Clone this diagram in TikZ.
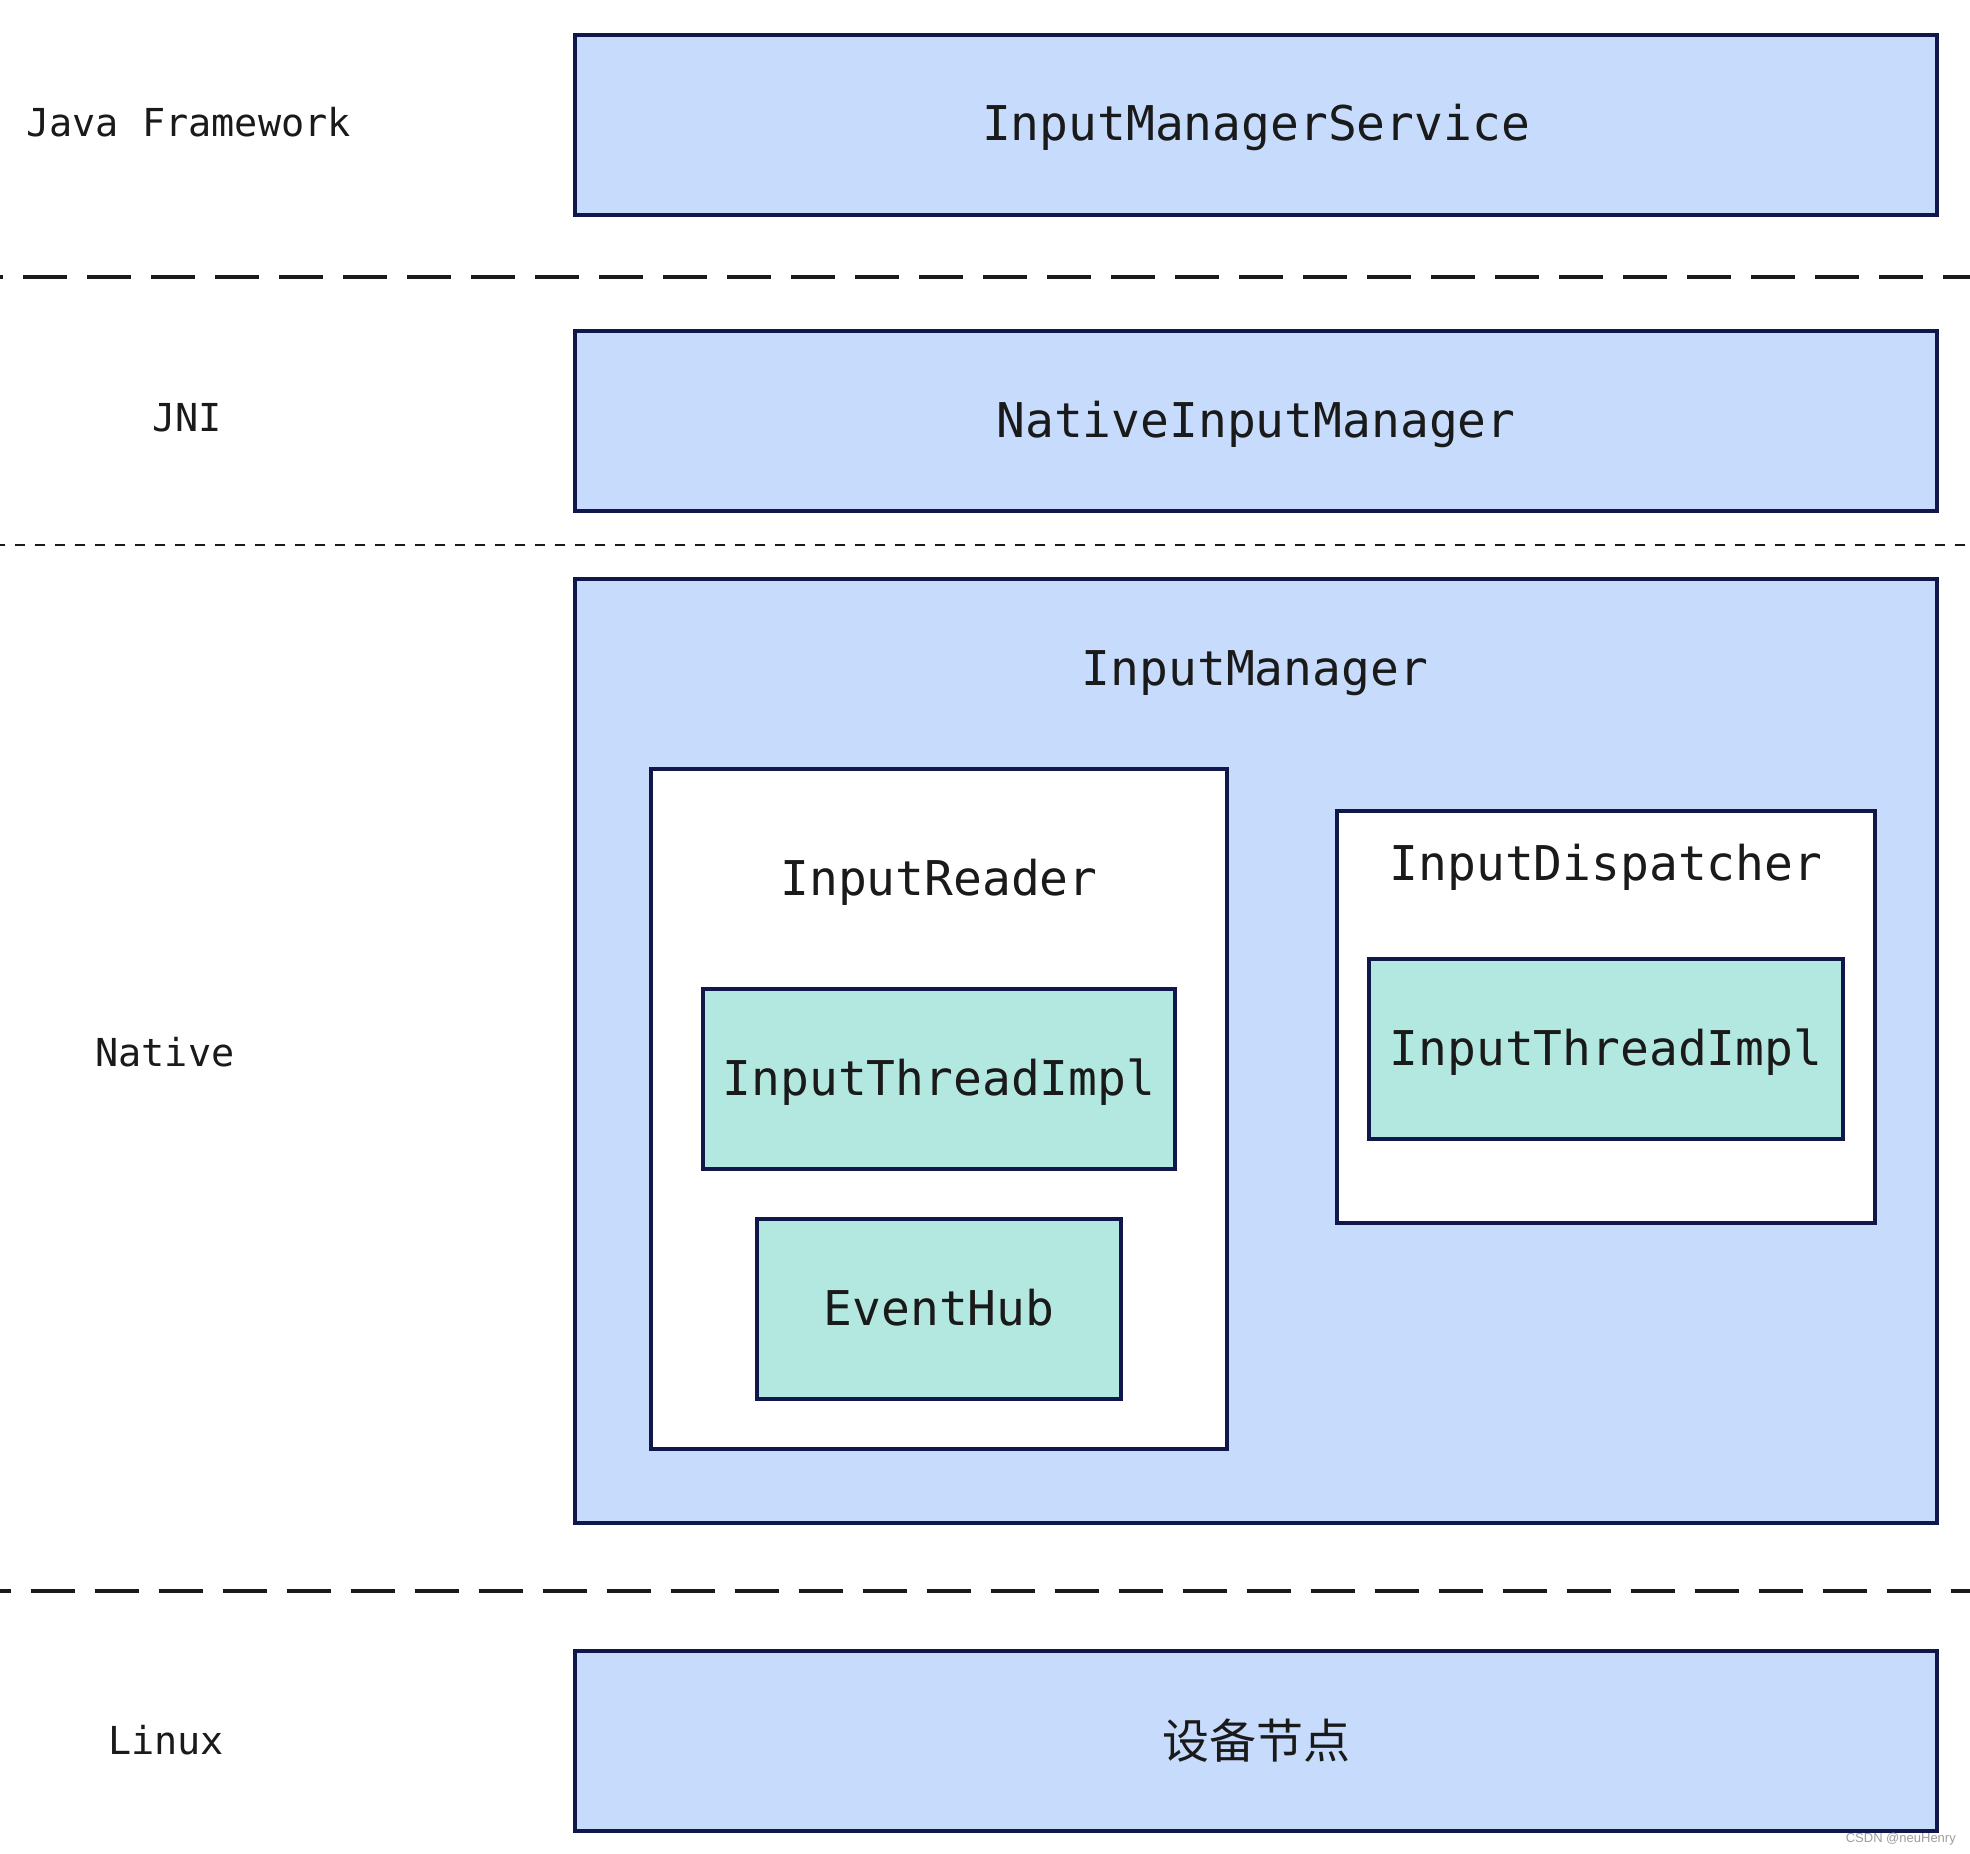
\documentclass[tikz,border=0pt]{standalone}
\usepackage{fontspec}
\usetikzlibrary{fit}
\newfontfamily\dvm{DejaVu Sans Mono}
\newfontfamily\cjk{Noto Sans CJK SC}
\newfontfamily\wmfont{Liberation Sans}
\definecolor{boxblue}{HTML}{C7DBFC}
\definecolor{boxteal}{HTML}{B3E8E0}
\definecolor{edge}{HTML}{10174A}
\definecolor{ink}{HTML}{1A1A1A}
\begin{document}
\begin{tikzpicture}[x=1pt,y=-1pt,
  box/.style={draw=edge,line width=3.3pt,inner sep=0pt,outer sep=0pt},
  bluebox/.style={box,fill=boxblue},
  whitebox/.style={box,fill=white},
  tealbox/.style={box,fill=boxteal},
  bigtxt/.style={font=\dvm\fontsize{47.9}{57}\selectfont,text=ink,inner sep=0pt,anchor=base},
  cjktxt/.style={font=\cjk\fontsize{47}{57}\selectfont,text=ink,inner sep=0pt,anchor=base},
  laytxt/.style={font=\dvm\fontsize{38.5}{46}\selectfont,text=ink,inner sep=0pt,anchor=base},
  thickdash/.style={draw=ink,line width=3.4pt,dash pattern=on 44pt off 20pt},
  thindash/.style={draw=ink,line width=2pt,dash pattern=on 10pt off 10pt}]
\useasboundingbox (0,0) rectangle (1970,1854);
\fill[white] (0,0) rectangle (1970,1854);

% layer separators
\coordinate (l1a) at (0,277);  \coordinate (l1b) at (1970,277);
\coordinate (l2a) at (0,545);  \coordinate (l2b) at (1970,545);
\coordinate (l3a) at (0,1591); \coordinate (l3b) at (1970,1591);
\draw[thickdash,dash phase=41pt] (l1a) -- (l1b);
\draw[thindash,dash phase=5pt] (l2a) -- (l2b);
\draw[thickdash,dash phase=33pt] (l3a) -- (l3b);

% layer labels
\node[laytxt] (ljava) at (188.5,137) {Java Framework};
\node[laytxt] (ljni) at (187,431) {JNI};
\node[laytxt] (lnative) at (165,1066) {Native};
\node[laytxt] (llinux) at (166,1754) {Linux};

% boxes
\node[bluebox,fit={(575,35) (1937,215)}] (ims) {};
\node[bigtxt] (imstxt) at ([yshift=-16pt]ims.center) {InputManagerService};

\node[bluebox,fit={(575,331) (1937,511)}] (nim) {};
\node[bigtxt] (nimtxt) at ([yshift=-16pt]nim.center) {NativeInputManager};

\node[bluebox,fit={(575,579) (1937,1523)}] (im) {};
\node[bigtxt] (imtxt) at (1255,685.5) {InputManager};

\node[whitebox,fit={(651,769) (1227,1449)}] (ir) {};
\node[bigtxt] (irtxt) at (939,895.5) {InputReader};

\node[tealbox,fit={(703,989) (1175,1169)}] (iti1) {};
\node[bigtxt] (iti1txt) at ([yshift=-16pt]iti1.center) {InputThreadImpl};

\node[tealbox,fit={(757,1219) (1121,1399)}] (eh) {};
\node[bigtxt] (ehtxt) at ([yshift=-16pt]eh.center) {EventHub};

\node[whitebox,fit={(1337,811) (1875,1223)}] (id) {};
\node[bigtxt] (idtxt) at (1606,880.5) {InputDispatcher};

\node[tealbox,fit={(1369,959) (1843,1139)}] (iti2) {};
\node[bigtxt] (iti2txt) at ([yshift=-16pt]iti2.center) {InputThreadImpl};

\node[bluebox,fit={(575,1651) (1937,1831)}] (dev) {};
\node[cjktxt] (devtxt) at ([yshift=-17pt]dev.center) {设备节点};

% watermark
\node[font=\wmfont\fontsize{13}{15}\selectfont,text=black!38,inner sep=0pt,anchor=base east] (wm) at (1956,1842) {CSDN @neuHenry};
\end{tikzpicture}
\end{document}
